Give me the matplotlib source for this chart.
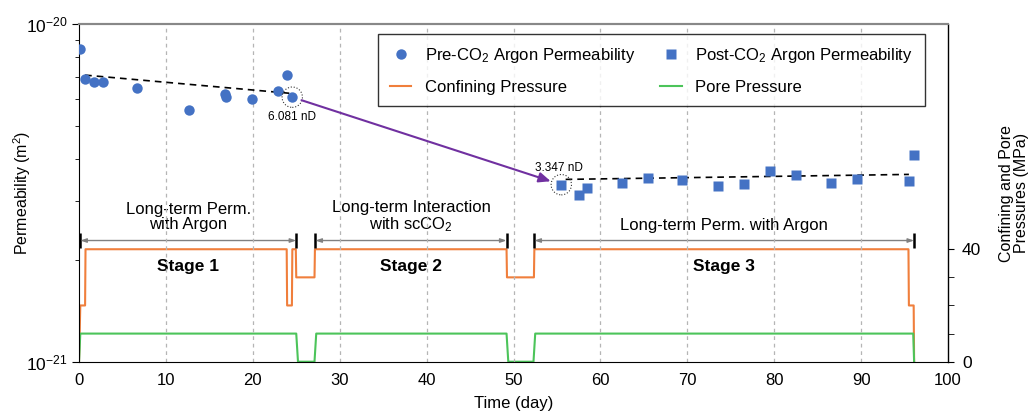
import matplotlib
matplotlib.use("Agg")
import matplotlib.pyplot as plt
from matplotlib.ticker import LogLocator, NullFormatter, FixedLocator, FixedFormatter

plt.rcParams['font.family'] = ['Liberation Sans', 'DejaVu Sans']
plt.rcParams['mathtext.fontset'] = 'custom'
plt.rcParams['mathtext.rm'] = 'Liberation Sans'
plt.rcParams['mathtext.it'] = 'Liberation Sans:italic'
plt.rcParams['mathtext.bf'] = 'Liberation Sans:bold'

ND = 1e-21  # m^2 per nanodarcy (as used in the labels)

# Pre-CO2 argon permeability (days, m^2)
pre_days = [0.1, 0.73, 1.73, 2.77, 6.69, 12.7, 16.8, 16.9, 19.9, 22.86, 23.93, 24.54]
pre_perm = [8.45e-21, 6.87e-21, 6.74e-21, 6.76e-21, 6.47e-21, 5.57e-21,
            6.22e-21, 6.10e-21, 6.00e-21, 6.34e-21, 7.09e-21, 6.081 * ND]

# Post-CO2 argon permeability (days, m^2)
post_days = [55.5, 57.5, 58.5, 62.5, 65.5, 69.4, 73.5, 76.5, 79.5, 82.5, 86.5, 89.5, 95.5, 96.1]
post_perm = [3.347 * ND, 3.11e-21, 3.27e-21, 3.375e-21, 3.50e-21, 3.45e-21, 3.31e-21,
             3.36e-21, 3.68e-21, 3.565e-21, 3.39e-21, 3.48e-21, 3.43e-21, 4.10e-21]

# Trend lines
pre_trend_days = [0.7, 24.4]
pre_trend_perm = [7.07e-21, 6.24e-21]
post_trend_days = [56.0, 95.5]
post_trend_perm = [3.47e-21, 3.59e-21]

# Confining pressure history (day, MPa)
conf_days = [0.0, 0.15, 0.7, 0.75, 23.9, 23.95, 24.5, 24.55, 24.95, 25.0, 27.1, 27.15,
             49.2, 49.25, 52.35, 52.4, 95.45, 95.5, 96.05, 96.1]
conf_mpa = [0, 20, 20, 40, 40, 20, 20, 40, 40, 30, 30, 40,
            40, 30, 30, 40, 40, 20, 20, 0]

# Pore pressure history (day, MPa)
pore_days = [0.0, 0.15, 25.0, 25.2, 27.1, 27.3, 49.2, 49.4, 52.3, 52.5, 96.0, 96.1]
pore_mpa = [0, 10, 10, 0, 0, 10, 10, 0, 0, 10, 10, 0]

# Stage spans (start day, end day) and labels
stage_spans = [(0.15, 25.0), (27.2, 49.2), (52.4, 96.1)]
stage_titles = ["Stage 1", "Stage 2", "Stage 3"]
stage_notes = ["Long-term Perm.\nwith Argon", "Long-term Interaction\nwith scCO$_2$",
               "Long-term Perm. with Argon"]

x_ticks = [0, 10, 20, 30, 40, 50, 60, 70, 80, 90, 100]

BLUE = "#4472C4"
ORANGE = "#F07F3C"
GREEN = "#4CC45A"
PURPLE = "#7030A0"

fig = plt.figure(figsize=(10.30, 4.16), dpi=100)
ax = fig.add_axes([79 / 1030, 1 - 361.7 / 416, (948 - 79) / 1030, (361.7 - 24.3) / 416])
ax2 = ax.twinx()

ax.set_xlim(0, 100)
ax.set_yscale('log')
ax.set_ylim(1e-21, 1e-20)
ax2.set_ylim(0, 120)

# Pressures (drawn on the secondary axis, behind the permeability data)
ax.set_zorder(2)
ax.patch.set_visible(False)
ax2.set_zorder(1)
lc, = ax2.plot(conf_days, conf_mpa, color=ORANGE, lw=1.5, label="Confining Pressure")
lp, = ax2.plot(pore_days, pore_mpa, color=GREEN, lw=1.5, label="Pore Pressure")

# Grid
for d in x_ticks[1:-1]:
    ax.axvline(d, color="#b5b5b5", lw=0.9, ls=(0, (3, 3)), zorder=0)

# Permeability data
hpre, = ax.plot(pre_days, pre_perm, 'o', color=BLUE, ms=7.5, mec='none',
                label="Pre-CO$_2$ Argon Permeability", zorder=5)
hpost, = ax.plot(post_days, post_perm, 's', color=BLUE, ms=7, mec='none',
                 label="Post-CO$_2$ Argon Permeability", zorder=5)
ax.plot(pre_trend_days, pre_trend_perm, color='black', lw=1.2, ls=(0, (4, 3)), zorder=4)
ax.plot(post_trend_days, post_trend_perm, color='black', lw=1.2, ls=(0, (4, 3)), zorder=4)

# Highlighted points and arrow between them
p1 = (pre_days[-1], pre_perm[-1])
p2 = (post_days[0], post_perm[0])
ax.scatter([p1[0], p2[0]], [p1[1], p2[1]], s=215, facecolors='none', edgecolors='#333333',
           linewidths=0.8, linestyles=':', zorder=6)
ax.annotate("", xy=p2, xytext=p1,
            arrowprops=dict(arrowstyle="-|>,head_length=0.7,head_width=0.3", color=PURPLE,
                            lw=1.5, shrinkA=7, shrinkB=8), zorder=6)
ax.annotate("6.081 nD", xy=p1, xytext=(0, -10), textcoords='offset points',
            ha='center', va='top', fontsize=8.5)
ax.annotate("3.347 nD", xy=p2, xytext=(-2, 8), textcoords='offset points',
            ha='center', va='bottom', fontsize=8.5)

# Stage annotations on the pressure axis
for (d0, d1), title, note in zip(stage_spans, stage_titles, stage_notes):
    ax2.annotate("", xy=(d0, 43.1), xytext=(d1, 43.1),
                 arrowprops=dict(arrowstyle="<|-|>,head_length=0.35,head_width=0.12",
                                 color="#808080", lw=1.0, shrinkA=0, shrinkB=0))
    for d in (d0, d1):
        ax2.plot([d, d], [40.6, 45.6], color='black', lw=1.8, solid_capstyle='butt')
    mid = (d0 + d1) / 2
    ax2.text(mid, 33.9, title, ha='center', va='center', fontsize=12.5, fontweight='bold')
    if "\n" in note:
        ax2.text(mid, 51.4, note, ha='center', va='center', fontsize=12, linespacing=1.0)
    else:
        ax2.text(mid, 48.6, note, ha='center', va='center', fontsize=12)

# Axes styling
ax.set_xticks(x_ticks)
ax.tick_params(axis='x', length=0, labelsize=12, pad=8)
ax.yaxis.set_major_locator(FixedLocator([1e-21, 1e-20]))
ax.yaxis.set_major_formatter(FixedFormatter(["10$^{-21}$", "10$^{-20}$"]))
ax.yaxis.set_minor_locator(LogLocator(base=10, subs=range(2, 10)))
ax.yaxis.set_minor_formatter(NullFormatter())
ax.tick_params(axis='y', which='major', length=5, labelsize=12.5, pad=3)
ax.tick_params(axis='y', which='minor', length=3)

ax2.yaxis.set_major_locator(FixedLocator([0, 40]))
ax2.yaxis.set_minor_locator(FixedLocator([10, 20, 30]))
ax2.tick_params(axis='y', which='major', length=4, labelsize=12.5, pad=6)
ax2.tick_params(axis='y', which='minor', length=4)

for a in (ax, ax2):
    a.spines['top'].set_color('#888888')
    a.spines['top'].set_linestyle((0, (1, 1)))
    a.spines['top'].set_linewidth(1.5)
ax.spines['right'].set_visible(False)
ax2.spines['left'].set_visible(False)
ax2.spines['bottom'].set_visible(False)
ax2.spines['right'].set_linewidth(1.0)

ax.set_xlabel("Time (day)", fontsize=12, labelpad=6)
ax.set_ylabel("Permeability (m$^2$)", fontsize=11.5)
ax.yaxis.set_label_coords(-46 / 869, 0.5)
ax2.set_ylabel("Confining and Pore\nPressures (MPa)", fontsize=11.5, linespacing=1.0)
ax2.yaxis.set_label_coords(1 + 51 / 869, 0.5)

leg = ax.legend(handles=[hpre, lc, hpost, lp], ncol=2, loc='upper left',
                bbox_to_anchor=(378 / 1030, 1 - 34 / 416),
                bbox_transform=fig.transFigure, fontsize=12,
                borderaxespad=0, frameon=True, fancybox=False, edgecolor='black',
                handlelength=1.3, handletextpad=0.8, columnspacing=1.5, borderpad=0.7,
                labelspacing=0.9)
leg.get_frame().set_linewidth(1.0)
leg.set_zorder(10)

fig.savefig("out.png", dpi=100)
